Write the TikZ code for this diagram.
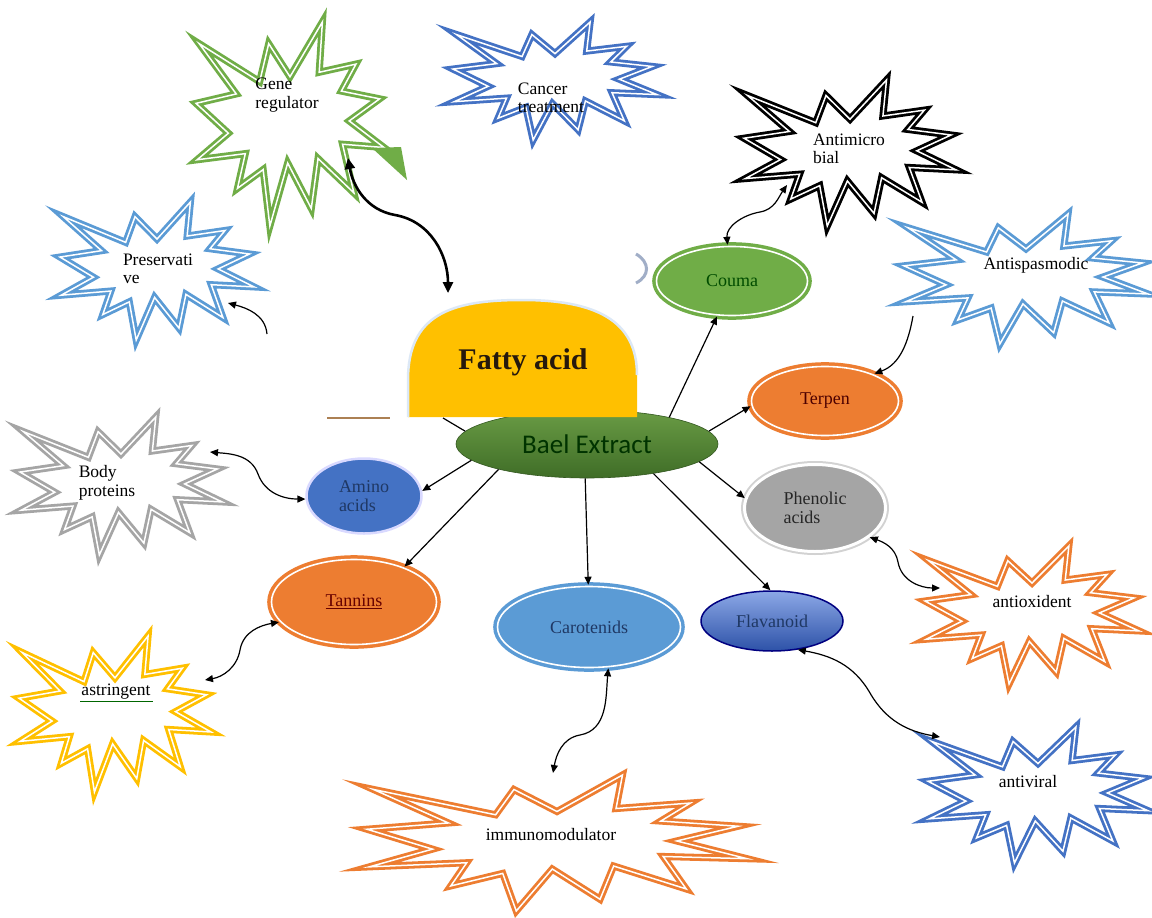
\documentclass[tikz,border=0pt]{standalone}
\usepackage{fontspec}
\setmainfont{Liberation Serif}
\newfontfamily\carlito{Carlito}
\usetikzlibrary{shapes.geometric,arrows.meta}
\definecolor{cgreen}{HTML}{70AD47}
\definecolor{cblue}{HTML}{4472C4}
\definecolor{clblue}{HTML}{5B9BD5}
\definecolor{corange}{HTML}{ED7D31}
\definecolor{cgray}{HTML}{A5A5A5}
\definecolor{cgold}{HTML}{FFC000}
\definecolor{cnavy}{HTML}{1F3864}
\definecolor{baeltop}{HTML}{6A9C45}
\definecolor{baelbot}{HTML}{3F6D27}
\definecolor{flavtop}{HTML}{8CA8E6}
\definecolor{flavbot}{HTML}{2D52A8}
\definecolor{domeglow}{HTML}{DCE8F6}
\newcommand\boomshape[5]{%
  \draw[boom=#5, shift={(#1,#2)}, xscale=#3, yscale=#4]
   (0,-0.2315) -- (0.1723,-0.5) -- (0.1553,-0.2535) -- (0.3509,-0.2937) --
   (0.2732,-0.1613) -- (0.4767,-0.1233) -- (0.3151,-0.0150) -- (0.5,0.1153) --
   (0.2795,0.0992) -- (0.3400,0.3377) -- (0.1491,0.1693) -- (0.1133,0.4138) --
   (-0.0124,0.1914) -- (-0.1072,0.5) -- (-0.1428,0.2235) -- (-0.2795,0.3156) --
   (-0.2376,0.1452) -- (-0.4938,0.1753) -- (-0.3277,0.0451) -- (-0.5,-0.1012) --
   (-0.2858,-0.1474) -- (-0.4829,-0.3937) -- (-0.1615,-0.2074) -- (-0.1133,-0.3937) -- cycle;}
\tikzset{
  boom/.style={draw=#1, fill=white, line width=2.8pt, double=white, double distance=1.5pt, line join=miter, miter limit=20},
  lbl/.style={font=\fontsize{17.5}{18.5}\selectfont, align=left, inner sep=0pt},
  ellfont/.style={font=\fontsize{18}{19}\selectfont, align=left},
  ringell/.style={ellipse, draw=#1, fill=#1, line width=3.5pt, double=white, double distance=1.6pt, inner sep=0pt},
  onearrow/.style={-{Triangle[length=8pt,width=7pt]}, line width=1.2pt},
  twoarrow/.style={{Triangle[length=8pt,width=7pt]}-{Triangle[length=8pt,width=7pt]}, line width=1.2pt},
  thickarrow/.style={{Triangle[length=11pt,width=10pt]}-{Triangle[length=11pt,width=10pt]}, line width=2.6pt},
}
\begin{document}
\begin{tikzpicture}[x=1pt,y=-1pt]
\fill[white] (0,0) rectangle (1152,918);
\path[use as bounding box] (0,0) rectangle (1152,918);

% explosions
\boomshape{290}{124}{188}{204}{cgreen}
\fill[cgreen] (372,148) -- (401,147) -- (407,180) -- cycle;
\boomshape{555}{81}{204}{118}{cblue}
\boomshape{850}{153}{212}{146}{black}
\boomshape{157}{271}{194}{138}{clblue}
\boomshape{1026}{279}{244}{130}{clblue}
\boomshape{121}{486}{202}{138}{cgray}
\boomshape{115}{714}{192}{156}{cgold}
\boomshape{1032}{615}{214}{138}{corange}
\boomshape{1038}{795}{220}{136}{cblue}
\boomshape{557}{843}{380}{136}{corange}

% small fragments
\draw[color=cblue!50!gray!60, line width=3pt] (636,254) .. controls (650,262) and (650,276) .. (636,283);
\draw[color=brown!70!gray, line width=2pt] (327,418) -- (390,418);
\draw[green!40!black, line width=0.8pt] (80,701) -- (153,701);

% centre
\node[ellipse, minimum width=262pt, minimum height=68pt, inner sep=0pt,
      top color=baeltop, bottom color=baelbot, draw=baelbot!80!black, line width=0.6pt,
      font=\carlito\fontsize{27}{30}\selectfont, text={black!80!green}] (bael) at (587,444) {Bael Extract};

\fill[cgold] (408,417) -- (408,380) .. controls (408,315) and (450,300) .. (522,300)
   .. controls (595,300) and (637,320) .. (637,375) -- (637,417) -- cycle;
\draw[domeglow, line width=2.5pt] (408,417) -- (408,380) .. controls (408,315) and (450,300) .. (522,300)
   .. controls (595,300) and (637,320) .. (637,375);
\node[font=\bfseries\fontsize{30}{32}\selectfont, text=black!80!brown] (fatty) at (523,362) {Fatty acid};

% compound ellipses
\node[ringell=cgreen, minimum width=151pt, minimum height=69pt, ellfont, text=black!70!green] (couma) at (732,281) {Couma};
\node[ringell=corange, minimum width=147pt, minimum height=69pt, ellfont, text=black!70!red] (terpen) at (825,401) {Terpen};
\node[ringell=corange, minimum width=165pt, minimum height=85pt, ellfont, text=black!60!red] (tannins) at (354,602) {\underline{Tannins}};
\node[ringell=clblue, minimum width=183pt, minimum height=81pt, ellfont, text=cnavy] (carot) at (589,627) {Carotenids};
\node[ellipse, minimum width=115pt, minimum height=75pt, inner sep=0pt, fill=cblue, draw=blue!15, line width=2.5pt,
      ellfont, text=cnavy] (amino) at (364,496) {Amino\\acids};
\node[ellipse, minimum width=141pt, minimum height=87pt, inner sep=0pt, fill=cgray,
      preaction={draw=gray!35, line width=7pt}, draw=white, line width=3pt,
      ellfont, text=black!85] (phen) at (815,508) {Phenolic\\acids};
\node[ellipse, minimum width=142pt, minimum height=60pt, inner sep=0pt,
      top color=flavtop, bottom color=flavbot, draw=blue!50!black, line width=1.5pt,
      ellfont, text=cnavy] (flav) at (772,621) {Flavanoid};

% labels of explosions
\node[lbl] (gene) at (287,95) {Gene\\regulator};
\node[lbl] (cancer) at (551,98) {Cancer\\treatment};
\node[lbl] (antimicro) at (849,149) {Antimicro\\bial};
\node[lbl] (preserv) at (158,269) {Preservati\\ve};
\node[lbl] (antispas) at (1036,265) {Antispasmodic};
\node[lbl] (body) at (107,483) {Body\\proteins};
\node[lbl] (astr) at (116,692) {astringent};
\node[lbl] (aox) at (1032,602) {antioxident};
\node[lbl] (avir) at (1028,782) {antiviral};
\node[lbl] (immu) at (551,835) {immunomodulator};

% connector end points on explosions
\coordinate (gene-tip) at (348,158);
\coordinate (fa-top) at (448,293);
\coordinate (fa-foot) at (443,418);
\coordinate (pres-tip) at (228,303);
\coordinate (pres-tail) at (267,334);
\coordinate (anti-tip) at (787,185);
\coordinate (asp-tail) at (913,316);
\coordinate (body-tip) at (210,452);
\coordinate (astr-tip) at (205,680);
\coordinate (aox-tip) at (940,588);
\coordinate (avir-tip) at (940,737);
\coordinate (immu-tip) at (553,773);

% arrows from the extract
\draw[onearrow] (bael.18) -- (couma.247);
\draw[onearrow] (bael.6) -- (terpen.184);
\draw[onearrow] (bael.-9) -- (phen.172);
\draw[onearrow] (bael.-24) -- (flav.93);
\draw[onearrow] (bael.-93) -- (carot.91);
\draw[onearrow] (bael.196) -- (tannins.35);
\draw[onearrow] (bael.188) -- (amino.5);
\draw[line width=1.2pt] (bael.174) -- (fa-foot);

% curved links
\draw[thickarrow] (gene-tip) to[out=-80,in=170] (395,215) to[out=-10,in=90] (fa-top);
\draw[onearrow] (pres-tail) to[out=95,in=-15] (pres-tip);
\draw[twoarrow] (couma.97) to[out=95,in=190] (760,212) to[out=10,in=235] (anti-tip);
\draw[onearrow] (asp-tail) to[out=-100,in=20] (terpen.29);
\draw[twoarrow] (body-tip) to[out=-5,in=110] (258,474) to[out=-70,in=180] (amino.183);
\draw[twoarrow] (tannins.195) to[out=190,in=80] (240,650) to[out=-100,in=10] (astr-tip);
\draw[twoarrow] (phen.-28) to[out=-20,in=100] (898,562) to[out=-80,in=180] (aox-tip);
\draw[twoarrow] (flav.-48) to[out=-10,in=120] (870,693) to[out=-60,in=170] (avir-tip);
\draw[twoarrow] (carot.-65) to[out=-95,in=10] (580,735) to[out=190,in=80] (immu-tip);
\end{tikzpicture}
\end{document}
